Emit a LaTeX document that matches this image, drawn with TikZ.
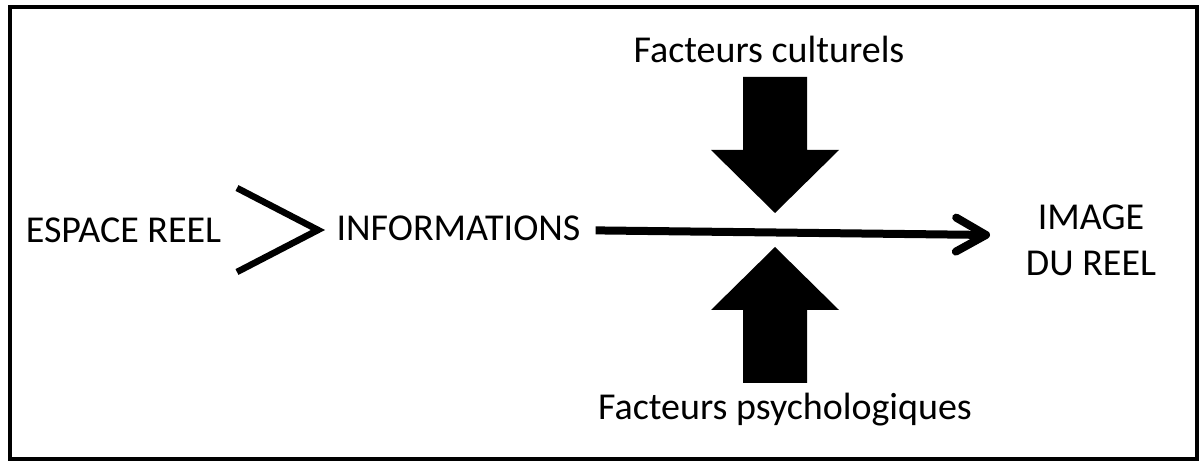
\documentclass[tikz,border=0pt]{standalone}
\usepackage{fontspec}
\setmainfont{Carlito}
\usetikzlibrary{arrows.meta}

\begin{document}
\begin{tikzpicture}
  [x=1pt,y=-1pt,every node/.style={inner sep=0pt,anchor=base,font=\fontsize{38}{45}\selectfont},
   flow/.style={line width=8pt,-{Straight Barb[length=30pt,width=34pt,round]}}]
  \useasboundingbox (0,0) rectangle (1200,462);
  \draw[line width=4pt] (10,7) rectangle (1197,459);

  \node (espace) at (123.5,243) {ESPACE REEL};
  \node[inner xsep=15pt] (info) at (458.5,241) {INFORMATIONS};
  \node (cult) at (769,63) {Facteurs culturels};
  \node (psy) at (785,420) {Facteurs psychologiques};
  \node (img1) at (1091,230) {IMAGE};
  \node (img2) at (1091,276) {DU REEL};
  \coordinate (tip) at (990,235);

  \draw[line width=6.5pt] (237,188) -- (318,230) -- (237,272);
  \draw[flow] (info) -- (tip);

  \foreach \a/\b/\c in {77/150/213,383/310/247}
    \fill (743,\a) -- (807,\a) -- (807,\b) -- (839,\b) -- (775,\c) -- (711,\b) -- (743,\b) -- cycle;

\end{tikzpicture}
\end{document}
